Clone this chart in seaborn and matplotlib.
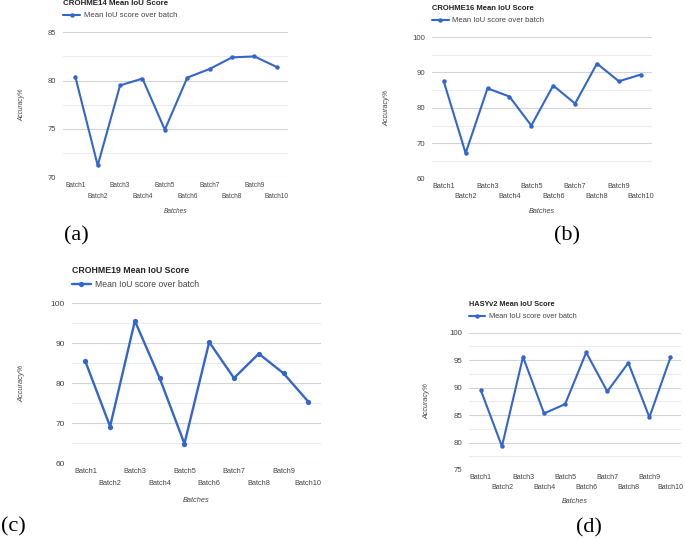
import matplotlib
matplotlib.use("Agg")
import matplotlib.pyplot as plt
import pandas as pd
import seaborn as sns

# batches and mean IoU values
batches = ["Batch1", "Batch2", "Batch3", "Batch4", "Batch5",
           "Batch6", "Batch7", "Batch8", "Batch9", "Batch10"]
batch_no = [1, 2, 3, 4, 5, 6, 7, 8, 9, 10]

crohme14 = [80.4, 71.2, 79.5, 80.2, 74.9, 80.3, 81.2, 82.4, 82.5, 81.4]
crohme16 = [87.5, 67.2, 85.5, 83.2, 75.0, 86.3, 81.2, 92.5, 87.5, 89.4]
crohme19 = [85.5, 69.2, 95.6, 81.3, 64.9, 90.3, 81.3, 87.4, 82.5, 75.4]
hasyv2 = [89.5, 79.3, 95.6, 85.3, 87.0, 96.4, 89.3, 94.5, 84.6, 95.5]

titles = ["CROHME14 Mean IoU Score", "CROHME16 Mean IoU Score",
          "CROHME19 Mean IoU Score", "HASYv2 Mean IoU Score"]
letters = ["(a)", "(b)", "(c)", "(d)"]

W, H = 685, 539
BLUE = "#3366cc"

sns.set_theme(style="white")
plt.rcParams["font.family"] = ["Liberation Sans", "DejaVu Sans"]

fig = plt.figure(figsize=(W / 100, H / 100), dpi=100)


def fx(x):
    return x / W


def fy(y):
    return 1 - y / H


# layout per panel in pixels: plot box, title/legend rows, fonts
panels = [
    dict(vals=crohme14, box=(63, 32.3, 288, 177), ylim=(70, 85), step=5,
         title_y=3.5, leg_y=15.7, letter=(76, 236),
         fs_tick=4.7, fs_y=5.5, fs_leg=5.6, fs_title=5.7, lw=1.5, ms=3.2,
         pads=(3.8, 11.2), xl=34, yl=41.3),
    dict(vals=crohme16, box=(431.7, 37, 651.7, 178.7), ylim=(60, 100), step=10,
         title_y=8.3, leg_y=20.7, letter=(567, 236),
         fs_tick=5.2, fs_y=5.6, fs_leg=5.5, fs_title=5.5, lw=1.5, ms=3.2,
         pads=(3.4, 10.6), xl=33, yl=45),
    dict(vals=crohme19, box=(71.7, 303.3, 320.7, 463.3), ylim=(60, 100), step=10,
         title_y=270.7, leg_y=284.7, letter=(13, 527),
         fs_tick=5.3, fs_y=6.0, fs_leg=6.2, fs_title=6.3, lw=1.7, ms=3.8,
         pads=(3.7, 12.0), xl=37.4, yl=50),
    dict(vals=hasyv2, box=(469.3, 332.7, 681, 470), ylim=(75, 100), step=5,
         title_y=304.7, leg_y=316.7, letter=(589, 528),
         fs_tick=5.1, fs_y=5.7, fs_leg=5.3, fs_title=5.35, lw=1.5, ms=3.2,
         pads=(3.0, 9.8), xl=31.7, yl=42.6),
]

for i, p in enumerate(panels):
    x0, y0, x1, y1 = p["box"]
    ax = fig.add_axes([fx(x0), fy(y1), (x1 - x0) / W, (y1 - y0) / H])

    df = pd.DataFrame({"batch": batch_no, "iou": p["vals"]})
    sns.lineplot(data=df, x="batch", y="iou", ax=ax, color=BLUE,
                 linewidth=p["lw"], marker="o", markersize=p["ms"],
                 markeredgewidth=0, label="Mean IoU score over batch")

    lo, hi = p["ylim"]
    ax.set_xlim(0.45, 10.5)
    ax.set_ylim(lo, hi)
    major = list(range(lo, hi + 1, p["step"]))
    minor = [v + p["step"] / 2 for v in major[:-1]]
    ax.set_yticks(major)
    ax.set_yticks(minor, minor=True)
    ax.yaxis.grid(True, which="major", color="#d4d4d4", linewidth=0.8)
    ax.yaxis.grid(True, which="minor", color="#ececec", linewidth=0.8)
    ax.xaxis.grid(False)
    ax.set_axisbelow(True)

    # staggered batch labels: odd batches on the first row, even on the second
    ax.set_xticks(batch_no[0::2])
    ax.set_xticklabels(batches[0::2])
    ax.set_xticks(batch_no[1::2], minor=True)
    ax.set_xticklabels(batches[1::2], minor=True)
    ax.tick_params(axis="x", which="major", length=0, pad=p["pads"][0],
                   labelsize=p["fs_tick"], labelcolor="#444444")
    ax.tick_params(axis="x", which="minor", length=0, pad=p["pads"][1],
                   labelsize=p["fs_tick"], labelcolor="#444444")
    ax.tick_params(axis="y", which="both", length=0, pad=5,
                   labelsize=p["fs_y"], labelcolor="#444444")

    for s in ax.spines.values():
        s.set_visible(False)

    ax.set_xlabel("Batches", fontsize=p["fs_tick"], style="italic", color="#444444")
    ax.set_ylabel("Accuracy%", fontsize=p["fs_tick"], style="italic", color="#444444")
    ax.xaxis.label.set_va("center")
    ax.yaxis.label.set_va("center")
    ax.xaxis.set_label_coords(0.5, -p["xl"] / (y1 - y0))
    ax.yaxis.set_label_coords(-p["yl"] / (x1 - x0), 0.5)

    fig.text(fx(x0), fy(p["title_y"]), titles[i], fontsize=p["fs_title"],
             fontweight="bold", color="#222222", ha="left", va="center")

    ax.legend(loc="center left", bbox_to_anchor=(fx(x0), fy(p["leg_y"])),
              bbox_transform=fig.transFigure, frameon=False,
              fontsize=p["fs_leg"], handlelength=2.2, handletextpad=0.5,
              borderpad=0, borderaxespad=0, labelcolor="#444444")

    fig.text(fx(p["letter"][0]), fy(p["letter"][1]), letters[i],
             fontsize=16, family=["Liberation Serif", "DejaVu Serif"],
             ha="center", va="center", color="black")

fig.savefig("out.png", dpi=100, facecolor="white")
